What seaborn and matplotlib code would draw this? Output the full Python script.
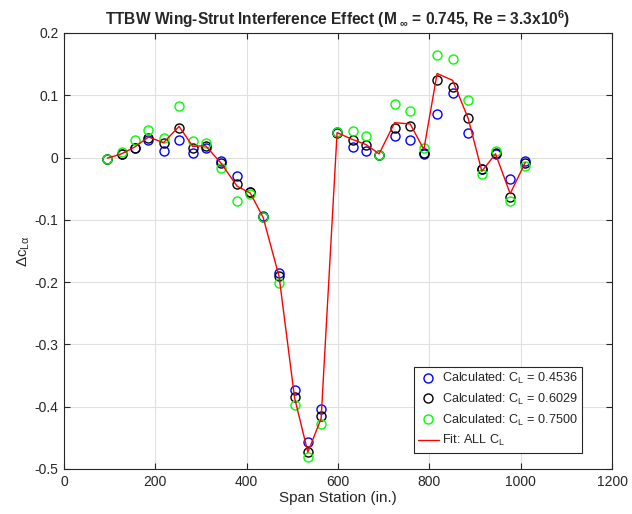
import numpy as np
import pandas as pd
import matplotlib
matplotlib.use("Agg")
import matplotlib.pyplot as plt
import seaborn as sns

station = [95, 126, 155, 185, 218, 252, 282, 310, 344, 379, 408, 436, 471, 505, 534,
           563, 598, 632, 661, 690, 724, 758, 788, 817, 851, 885, 915, 945, 977, 1010]

cl_4536 = [-0.002, 0.005, 0.015, 0.029, 0.011, 0.028, 0.007, 0.016, -0.005, -0.029,
           -0.055, -0.094, -0.186, -0.373, -0.456, -0.404, 0.041, 0.017, 0.011, 0.004,
           0.034, 0.029, 0.005, 0.070, 0.103, 0.040, -0.019, 0.006, -0.034, -0.005]
cl_6029 = [-0.002, 0.006, 0.015, 0.031, 0.023, 0.047, 0.015, 0.018, -0.009, -0.043,
           -0.056, -0.095, -0.190, -0.385, -0.473, -0.415, 0.040, 0.029, 0.020, 0.004,
           0.048, 0.051, 0.007, 0.125, 0.114, 0.063, -0.019, 0.008, -0.064, -0.008]
cl_7500 = [-0.002, 0.009, 0.028, 0.044, 0.031, 0.083, 0.027, 0.024, -0.016, -0.070,
           -0.059, -0.096, -0.201, -0.398, -0.481, -0.427, 0.041, 0.042, 0.034, 0.004,
           0.086, 0.074, 0.015, 0.164, 0.158, 0.093, -0.026, 0.010, -0.070, -0.013]
fit_all = [-0.001, 0.006, 0.017, 0.033, 0.024, 0.050, 0.018, 0.019, -0.009, -0.046,
           -0.057, -0.096, -0.191, -0.386, -0.473, -0.419, 0.040, 0.029, 0.021, 0.006,
           0.056, 0.054, 0.013, 0.135, 0.124, 0.063, -0.022, 0.006, -0.058, -0.008]

labels = ["Calculated: C$_{\\mathrm{L}}$ = 0.4536",
          "Calculated: C$_{\\mathrm{L}}$ = 0.6029",
          "Calculated: C$_{\\mathrm{L}}$ = 0.7500",
          "Fit: ALL C$_{\\mathrm{L}}$"]
x_ticks = [0, 200, 400, 600, 800, 1000, 1200]
y_ticks = [-0.5, -0.4, -0.3, -0.2, -0.1, 0, 0.1, 0.2]
y_ticklabels = ["-0.5", "-0.4", "-0.3", "-0.2", "-0.1", "0", "0.1", "0.2"]

sns.set_theme(style="white")
plt.rcParams["font.family"] = ["Liberation Sans", "DejaVu Sans"]
plt.rcParams["mathtext.fontset"] = "custom"
plt.rcParams["mathtext.rm"] = "Liberation Sans"
plt.rcParams["mathtext.it"] = "Liberation Sans:italic"
plt.rcParams["mathtext.bf"] = "Liberation Sans:bold"
plt.rcParams["mathtext.sf"] = "Liberation Sans"
plt.rcParams["mathtext.default"] = "regular"

fig = plt.figure(figsize=(6.32, 5.14), dpi=100)
ax = fig.add_axes([64 / 632, 1 - 469 / 514, 548 / 632, 436 / 514])

df = pd.DataFrame({"station": station, "a": cl_4536, "b": cl_6029, "c": cl_7500, "fit": fit_all})

for col, color, lab in [("a", (0, 0, 1), labels[0]), ("b", (0, 0, 0), labels[1]), ("c", (0, 1, 0), labels[2])]:
    sns.lineplot(data=df, x="station", y=col, ax=ax, marker="o", linestyle="", markersize=6.5,
                 markerfacecolor="none", markeredgecolor=color, markeredgewidth=1.0,
                 color=color, label=lab, sort=False, zorder=3)
sns.lineplot(data=df, x="station", y="fit", ax=ax, color=(1, 0, 0), linewidth=1.0,
             label=labels[3], sort=False, zorder=4)

ax.set_xlim(0, 1200)
ax.set_ylim(-0.5, 0.2)
ax.set_xticks(x_ticks)
ax.set_xticklabels([str(t) for t in x_ticks])
ax.set_yticks(y_ticks)
ax.set_yticklabels(y_ticklabels)
ax.grid(True, color=(0.88, 0.88, 0.88), linewidth=0.8)
ax.set_axisbelow(True)
for s in ax.spines.values():
    s.set_color((0.15, 0.15, 0.15))
    s.set_linewidth(0.8)
ax.tick_params(direction="in", length=4, width=0.8, color=(0.15, 0.15, 0.15),
               labelsize=10, labelcolor=(0.15, 0.15, 0.15), top=True, right=True,
               bottom=True, left=True, pad=4)

ax.set_xlabel("Span Station (in.)", fontsize=11, color=(0.15, 0.15, 0.15), labelpad=2)
ax.set_ylabel("$\\Delta \\mathrm{c}_{\\mathrm{L}\\alpha}$", fontsize=11, color=(0.15, 0.15, 0.15), labelpad=2)
ax.set_title("TTBW Wing-Strut Interference Effect (M$_{\\ \\infty}$ = 0.745, Re = 3.3x10$^{6}$)",
             fontsize=11.2, fontweight="bold", pad=6)

leg = ax.legend(loc="lower right", bbox_to_anchor=(0.945, 0.037), borderaxespad=0,
                fontsize=9.1, frameon=True,
                fancybox=False, edgecolor=(0.15, 0.15, 0.15), framealpha=1,
                handlelength=1.6, handletextpad=0.25, borderpad=0.35, labelspacing=0.45)
leg.get_frame().set_linewidth(0.8)

fig.savefig("out.png", dpi=100)
